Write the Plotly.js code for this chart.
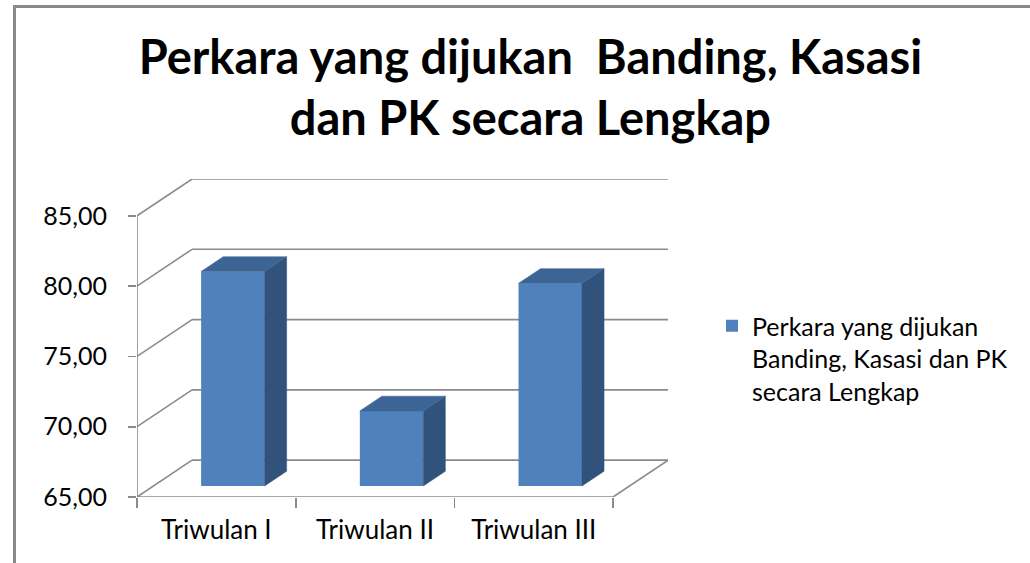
<!DOCTYPE html>
<html>
<head>
<meta charset="utf-8">
<script src="https://cdn.plot.ly/plotly-3.0.1.min.js"></script>
<style>
  body { margin: 0; background: #fff; }
  #wrap { position: relative; width: 1030px; height: 563px; overflow: hidden; }
  #chart { width: 1030px; height: 563px; }
  #frame {
    position: absolute; left: 13px; top: 5px; width: 1100px; height: 600px;
    border-left: 3px solid #8a8a8a; border-top: 3px solid #8a8a8a;
    pointer-events: none;
  }
</style>
</head>
<body>
<div id="wrap">
  <div id="chart"></div>
  <div id="frame"></div>
</div>
<script>
// data
const categories = ['Triwulan I', 'Triwulan II', 'Triwulan III'];
const values = [80.26, 70.34, 79.41];
const seriesName = 'Perkara yang dijukan<br>Banding, Kasasi dan PK<br>secara Lengkap';
const yTicks = [65, 70, 75, 80, 85];
const yTickText = ['65,00', '70,00', '75,00', '80,00', '85,00'];

// fake 3d: depth of the box in data units, and where the bars sit in it
const Y0 = 65;
const DX = 0.347;
const DY = 2.62;
const FRONT = 0.3;
const BACK = 0.7;
const BAR_W = 0.4;

const idx = categories.map((c, i) => i);
const gridColor = '#8a8a8a';

// wireframe (walls + floor), drawn below the bars
const shapes = [];
const seg = (x0, y0, x1, y1) => shapes.push({
  type: 'line', xref: 'x', yref: 'y', x0, y0, x1, y1, layer: 'below',
  line: { color: gridColor, width: 1.6 }
});
const xl = -0.5, xr = categories.length - 0.5;
seg(xl, Y0, xl, yTicks[yTicks.length - 1]);
yTicks.forEach(v => {
  seg(xl, v, xl + DX, v + DY);
  seg(xl + DX, v + DY, xr + DX, v + DY);
});
seg(xl, Y0, xr, Y0);
seg(xr, Y0, xr + DX, Y0 + DY);

// bar faces
const fx = FRONT * DX, fy = FRONT * DY;
const ddx = (BACK - FRONT) * DX, ddy = (BACK - FRONT) * DY;

const traces = [];
idx.forEach(i => {
  const x0 = i + fx - BAR_W / 2, x1 = i + fx + BAR_W / 2;
  const b = Y0 + fy, t = values[i] + fy;
  traces.push({
    type: 'scatter', mode: 'lines', fill: 'toself',
    x: [x1, x1, x1 + ddx, x1 + ddx, x1],
    y: [b, t, t + ddy, b + ddy, b],
    fillcolor: '#30527b', line: { color: '#30527b', width: 0.5 },
    hoverinfo: 'skip', showlegend: false
  });
  traces.push({
    type: 'scatter', mode: 'lines', fill: 'toself',
    x: [x0, x0 + ddx, x1 + ddx, x1, x0],
    y: [t, t + ddy, t + ddy, t, t],
    fillcolor: '#3c6495', line: { color: '#3c6495', width: 0.5 },
    hoverinfo: 'skip', showlegend: false
  });
});

traces.unshift({
  type: 'bar',
  name: seriesName,
  x: idx.map(i => i + fx),
  y: values.map(v => v - Y0),
  base: idx.map(() => Y0 + fy),
  width: BAR_W,
  marker: { color: '#4f81bd', line: { width: 0 } },
  hovertemplate: '%{customdata}: %{y:.2f}<extra></extra>',
  customdata: categories
});

const layout = {
  width: 1030,
  height: 563,
  margin: { l: 137, r: 362, t: 179, b: 66 },
  paper_bgcolor: '#ffffff',
  plot_bgcolor: 'rgba(0,0,0,0)',
  font: { family: 'Lato, "DejaVu Sans", sans-serif', color: '#000', size: 26 },
  title: {
    text: 'Perkara yang dijukan  Banding, Kasasi<br>dan PK secara Lengkap',
    font: { family: 'Lato, sans-serif', size: 47, color: '#000', weight: 'bold' },
    x: 0.515, xanchor: 'center',
    y: 1 - 74 / 563, yref: 'container', yanchor: 'top'
  },
  xaxis: {
    range: [-0.5, -0.5 + 531 / 158.7],
    tickvals: idx,
    ticktext: categories,
    ticks: '',
    showgrid: false, zeroline: false, showline: false,
    ticklabelstandoff: 15,
    tickfont: { size: 26 },
    minor: { tickmode: 'linear', tick0: -0.5, dtick: 1, ticks: 'outside', ticklen: 10, tickcolor: gridColor, tickwidth: 1.6, showgrid: false },
    fixedrange: true
  },
  yaxis: {
    range: [Y0, yTicks[yTicks.length - 1] + DY],
    tickvals: yTicks,
    ticktext: yTickText,
    ticks: 'outside', ticklen: 8, tickcolor: gridColor, tickwidth: 1.6,
    showgrid: false, zeroline: false, showline: false,
    ticklabelstandoff: 16,
    tickfont: { size: 25 },
    fixedrange: true
  },
  shapes: shapes,
  showlegend: true,
  legend: {
    xref: 'container', yref: 'container',
    x: 712 / 1030, y: 1 - 303 / 563,
    xanchor: 'left', yanchor: 'top',
    valign: 'top',
    font: { size: 25, color: '#000' },
    bgcolor: 'rgba(0,0,0,0)'
  }
};

Plotly.newPlot('chart', traces, layout, { displayModeBar: false, staticPlot: true });
</script>
</body>
</html>
